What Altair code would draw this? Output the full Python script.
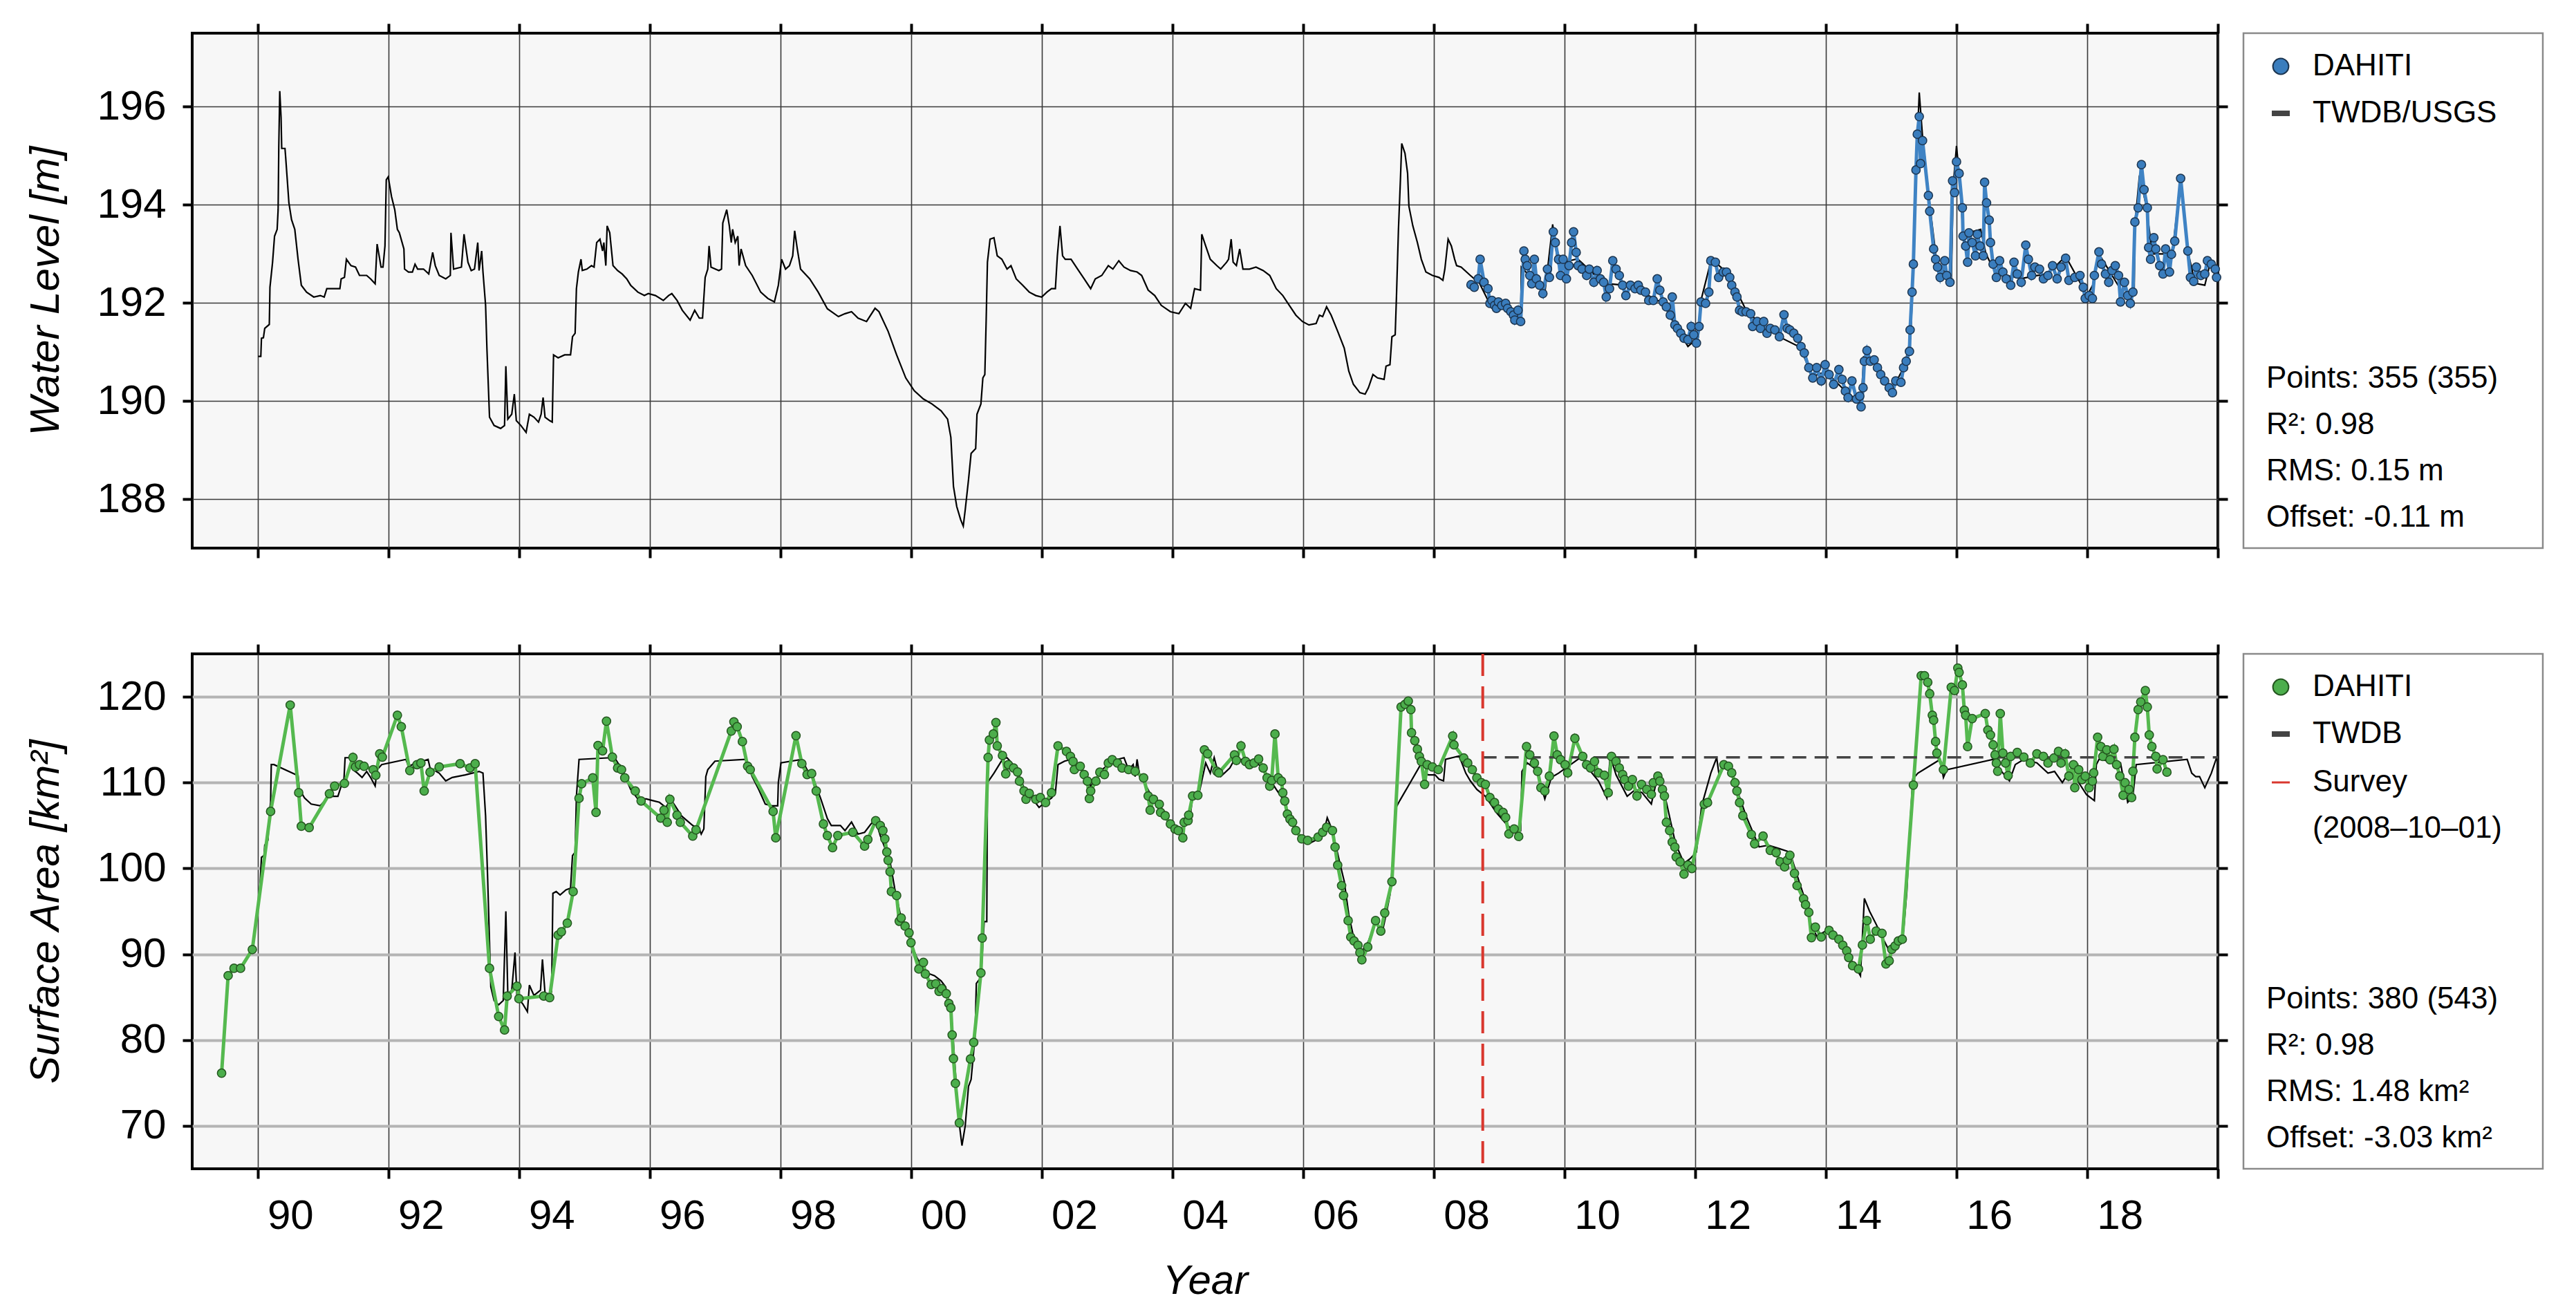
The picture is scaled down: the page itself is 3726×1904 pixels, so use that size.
import altair as alt
import pandas as pd

FONT = "Liberation Sans, Arial, Helvetica, sans-serif"
W, H = 2930, 745

# ---------------- Water level (top panel) ----------------
wl_twdb_year = [1990.01, 1990.05, 1990.06, 1990.09, 1990.11, 1990.18, 1990.19, 1990.23, 1990.26, 1990.30, 1990.315, 1990.325, 1990.34, 1990.36, 1990.37, 1990.42, 1990.43, 1990.48, 1990.52, 1990.57, 1990.62, 1990.67, 1990.75, 1990.86, 1990.96, 1991.02, 1991.06, 1991.26, 1991.28, 1991.33, 1991.36, 1991.43, 1991.50, 1991.56, 1991.67, 1991.73, 1991.80, 1991.83, 1991.89, 1991.92, 1991.95, 1991.97, 1992.00, 1992.05, 1992.10, 1992.14, 1992.17, 1992.24, 1992.25, 1992.31, 1992.37, 1992.41, 1992.45, 1992.54, 1992.62, 1992.68, 1992.72, 1992.78, 1992.88, 1992.95, 1992.96, 1993.00, 1993.12, 1993.16, 1993.22, 1993.27, 1993.32, 1993.37, 1993.39, 1993.43, 1993.45, 1993.49, 1993.51, 1993.55, 1993.62, 1993.72, 1993.78, 1993.80, 1993.83, 1993.89, 1993.93, 1993.96, 1994.03, 1994.11, 1994.16, 1994.23, 1994.30, 1994.34, 1994.37, 1994.40, 1994.47, 1994.51, 1994.53, 1994.60, 1994.70, 1994.79, 1994.82, 1994.86, 1994.88, 1994.91, 1994.95, 1994.97, 1995.04, 1995.11, 1995.15, 1995.19, 1995.24, 1995.28, 1995.30, 1995.33, 1995.35, 1995.39, 1995.44, 1995.51, 1995.58, 1995.65, 1995.71, 1995.82, 1995.92, 1995.98, 1996.09, 1996.21, 1996.29, 1996.34, 1996.42, 1996.50, 1996.62, 1996.69, 1996.76, 1996.81, 1996.85, 1996.89, 1996.91, 1996.94, 1997.06, 1997.10, 1997.12, 1997.18, 1997.22, 1997.25, 1997.27, 1997.31, 1997.35, 1997.37, 1997.40, 1997.47, 1997.57, 1997.70, 1997.81, 1997.91, 1997.97, 1998.02, 1998.08, 1998.14, 1998.19, 1998.22, 1998.26, 1998.31, 1998.45, 1998.58, 1998.72, 1998.89, 1998.99, 1999.09, 1999.19, 1999.32, 1999.45, 1999.51, 1999.65, 1999.78, 1999.92, 2000.05, 2000.19, 2000.32, 2000.46, 2000.56, 2000.61, 2000.65, 2000.70, 2000.76, 2000.80, 2000.83, 2000.88, 2000.92, 2000.99, 2001.01, 2001.07, 2001.10, 2001.13, 2001.15, 2001.17, 2001.21, 2001.27, 2001.32, 2001.39, 2001.47, 2001.53, 2001.61, 2001.71, 2001.81, 2001.91, 2002.00, 2002.08, 2002.15, 2002.21, 2002.24, 2002.28, 2002.32, 2002.36, 2002.45, 2002.55, 2002.65, 2002.75, 2002.82, 2002.92, 2003.02, 2003.09, 2003.18, 2003.26, 2003.36, 2003.46, 2003.53, 2003.63, 2003.73, 2003.83, 2003.97, 2004.10, 2004.20, 2004.28, 2004.34, 2004.43, 2004.45, 2004.51, 2004.58, 2004.68, 2004.74, 2004.83, 2004.86, 2004.90, 2004.93, 2004.98, 2005.03, 2005.08, 2005.18, 2005.28, 2005.39, 2005.49, 2005.59, 2005.69, 2005.79, 2005.89, 2005.99, 2006.09, 2006.20, 2006.25, 2006.30, 2006.36, 2006.43, 2006.53, 2006.63, 2006.70, 2006.77, 2006.87, 2006.95, 2007.00, 2007.07, 2007.14, 2007.24, 2007.27, 2007.33, 2007.36, 2007.41, 2007.43, 2007.46, 2007.49, 2007.51, 2007.56, 2007.60, 2007.62, 2007.68, 2007.75, 2007.81, 2007.88, 2007.98, 2008.08, 2008.14, 2008.17, 2008.22, 2008.27, 2008.32, 2008.35, 2008.42, 2008.56, 2008.70, 2008.85, 2009.00, 2009.20, 2009.33, 2009.34, 2009.50, 2009.70, 2009.82, 2009.90, 2010.20, 2010.60, 2011.00, 2011.50, 2011.89, 2012.05, 2012.08, 2012.25, 2012.50, 2012.80, 2013.30, 2013.60, 2013.80, 2014.00, 2014.30, 2014.54, 2014.58, 2014.75, 2015.00, 2015.20, 2015.30, 2015.34, 2015.38, 2015.43, 2015.48, 2015.51, 2015.60, 2015.70, 2015.85, 2015.92, 2015.95, 2016.00, 2016.05, 2016.10, 2016.37, 2016.45, 2016.60, 2017.00, 2017.40, 2017.67, 2018.00, 2018.10, 2018.18, 2018.50, 2018.65, 2018.72, 2018.73, 2018.80, 2018.90, 2019.00, 2019.30, 2019.43, 2019.55, 2019.65, 2019.80, 2019.88, 2020.00]
wl_twdb_val = [190.91, 190.91, 191.28, 191.29, 191.48, 191.56, 192.32, 192.83, 193.36, 193.50, 193.90, 195.18, 196.32, 195.78, 195.15, 195.15, 194.98, 194.04, 193.70, 193.50, 192.89, 192.36, 192.22, 192.12, 192.15, 192.12, 192.29, 192.29, 192.49, 192.52, 192.89, 192.76, 192.73, 192.56, 192.56, 192.49, 192.39, 193.20, 192.73, 192.73, 193.16, 194.51, 194.57, 194.17, 193.90, 193.50, 193.43, 193.10, 192.69, 192.63, 192.63, 192.79, 192.69, 192.69, 192.59, 193.03, 192.76, 192.56, 192.49, 192.56, 193.43, 192.69, 192.73, 193.40, 192.83, 192.66, 192.69, 193.23, 192.66, 193.06, 192.63, 191.95, 191.08, 189.67, 189.50, 189.44, 189.50, 190.71, 189.63, 189.73, 190.14, 189.60, 189.50, 189.36, 189.73, 189.67, 189.57, 189.73, 190.07, 189.67, 189.60, 189.57, 190.94, 190.88, 190.94, 190.94, 191.31, 191.38, 192.29, 192.63, 192.89, 192.66, 192.69, 192.76, 192.73, 193.23, 193.30, 193.06, 193.23, 192.76, 193.57, 193.43, 192.76, 192.66, 192.59, 192.49, 192.36, 192.22, 192.15, 192.19, 192.15, 192.05, 192.15, 192.19, 192.05, 191.85, 191.65, 191.85, 191.69, 191.69, 192.52, 192.69, 193.16, 192.73, 192.66, 192.69, 193.63, 193.90, 193.57, 193.23, 193.50, 193.23, 193.36, 192.76, 193.10, 192.76, 192.56, 192.22, 192.09, 192.02, 192.36, 192.89, 192.69, 192.76, 192.96, 193.47, 193.10, 192.69, 192.49, 192.22, 191.88, 191.72, 191.78, 191.82, 191.69, 191.62, 191.89, 191.82, 191.42, 190.94, 190.47, 190.21, 190.04, 189.94, 189.80, 189.63, 189.26, 188.26, 187.85, 187.58, 187.45, 187.78, 188.39, 188.93, 189.03, 189.73, 189.94, 190.47, 190.54, 191.62, 192.83, 193.30, 193.33, 192.96, 192.89, 192.69, 192.76, 192.49, 192.36, 192.22, 192.15, 192.12, 192.22, 192.29, 192.29, 192.96, 193.57, 192.96, 192.89, 192.89, 192.69, 192.49, 192.29, 192.49, 192.56, 192.76, 192.69, 192.86, 192.73, 192.66, 192.63, 192.56, 192.26, 192.15, 191.95, 191.82, 191.78, 191.99, 191.89, 192.29, 192.26, 193.40, 193.16, 192.89, 192.76, 192.69, 192.83, 192.89, 193.30, 192.83, 192.76, 193.10, 192.69, 192.69, 192.73, 192.66, 192.56, 192.29, 192.15, 191.95, 191.75, 191.62, 191.55, 191.58, 191.75, 191.72, 191.92, 191.75, 191.42, 191.08, 190.61, 190.34, 190.17, 190.14, 190.27, 190.54, 190.47, 190.44, 190.71, 190.74, 191.31, 191.35, 192.15, 193.50, 194.51, 195.25, 195.05, 194.64, 193.97, 193.57, 193.23, 192.89, 192.63, 192.56, 192.52, 192.46, 192.69, 193.30, 193.16, 192.89, 192.76, 192.73, 192.56, 192.40, 192.00, 191.95, 191.80, 191.60, 192.73, 192.50, 192.20, 193.60, 192.80, 192.90, 192.40, 192.35, 192.00, 191.11, 191.30, 192.00, 192.90, 192.60, 191.80, 191.30, 191.10, 190.50, 190.60, 190.20, 189.95, 190.90, 190.80, 190.20, 190.70, 191.30, 192.80, 194.70, 196.29, 195.40, 195.04, 193.90, 192.80, 192.60, 192.40, 194.40, 195.20, 194.50, 193.40, 193.50, 193.00, 192.60, 192.50, 192.60, 192.95, 192.15, 192.40, 193.00, 192.30, 192.00, 192.30, 193.60, 194.60, 194.00, 193.00, 193.00, 194.50, 193.00, 192.40, 192.36, 192.80, 192.60]

wl_dahiti_year = [2008.57, 2008.62, 2008.68, 2008.71, 2008.77, 2008.83, 2008.86, 2008.89, 2008.93, 2008.96, 2008.99, 2009.04, 2009.10, 2009.13, 2009.18, 2009.22, 2009.24, 2009.29, 2009.33, 2009.38, 2009.40, 2009.43, 2009.47, 2009.50, 2009.54, 2009.57, 2009.62, 2009.67, 2009.74, 2009.77, 2009.83, 2009.86, 2009.91, 2009.94, 2009.98, 2010.03, 2010.07, 2010.11, 2010.14, 2010.18, 2010.21, 2010.27, 2010.34, 2010.38, 2010.45, 2010.50, 2010.55, 2010.60, 2010.64, 2010.69, 2010.74, 2010.79, 2010.84, 2010.89, 2010.94, 2011.01, 2011.08, 2011.13, 2011.17, 2011.24, 2011.29, 2011.36, 2011.42, 2011.46, 2011.51, 2011.56, 2011.62, 2011.65, 2011.69, 2011.73, 2011.78, 2011.83, 2011.89, 2011.94, 2011.98, 2012.02, 2012.06, 2012.09, 2012.16, 2012.21, 2012.24, 2012.31, 2012.36, 2012.43, 2012.48, 2012.53, 2012.56, 2012.61, 2012.64, 2012.68, 2012.72, 2012.78, 2012.85, 2012.88, 2012.95, 2013.00, 2013.05, 2013.10, 2013.15, 2013.22, 2013.29, 2013.36, 2013.41, 2013.45, 2013.51, 2013.57, 2013.62, 2013.67, 2013.74, 2013.80, 2013.86, 2013.93, 2013.99, 2014.05, 2014.12, 2014.20, 2014.25, 2014.30, 2014.34, 2014.40, 2014.47, 2014.52, 2014.54, 2014.57, 2014.59, 2014.63, 2014.68, 2014.74, 2014.79, 2014.84, 2014.90, 2014.97, 2015.02, 2015.07, 2015.15, 2015.19, 2015.23, 2015.28, 2015.29, 2015.32, 2015.34, 2015.38, 2015.40, 2015.43, 2015.45, 2015.48, 2015.57, 2015.59, 2015.65, 2015.68, 2015.71, 2015.75, 2015.82, 2015.85, 2015.90, 2015.94, 2015.97, 2016.00, 2016.04, 2016.09, 2016.10, 2016.14, 2016.17, 2016.19, 2016.24, 2016.29, 2016.32, 2016.36, 2016.41, 2016.43, 2016.46, 2016.50, 2016.52, 2016.56, 2016.61, 2016.66, 2016.71, 2016.76, 2016.83, 2016.88, 2016.93, 2016.99, 2017.06, 2017.10, 2017.15, 2017.20, 2017.27, 2017.33, 2017.40, 2017.47, 2017.54, 2017.60, 2017.67, 2017.72, 2017.81, 2017.89, 2017.94, 2017.97, 2018.03, 2018.08, 2018.11, 2018.18, 2018.22, 2018.28, 2018.33, 2018.38, 2018.43, 2018.48, 2018.51, 2018.57, 2018.62, 2018.66, 2018.70, 2018.73, 2018.78, 2018.83, 2018.87, 2018.92, 2018.94, 2018.97, 2019.02, 2019.05, 2019.11, 2019.16, 2019.20, 2019.26, 2019.29, 2019.34, 2019.43, 2019.54, 2019.58, 2019.63, 2019.67, 2019.74, 2019.80, 2019.84, 2019.90, 2019.96, 2019.98]
wl_dahiti_val = [192.37, 192.32, 192.49, 192.89, 192.42, 192.29, 191.99, 192.05, 191.95, 191.89, 192.02, 191.95, 191.99, 191.89, 191.82, 191.75, 191.65, 191.85, 191.62, 193.06, 192.89, 192.76, 192.56, 192.39, 192.89, 192.49, 192.36, 192.19, 192.69, 192.52, 193.45, 193.23, 192.89, 192.56, 192.89, 192.49, 192.76, 193.23, 193.45, 193.03, 192.76, 192.69, 192.56, 192.69, 192.42, 192.66, 192.49, 192.42, 192.12, 192.29, 192.86, 192.69, 192.56, 192.36, 192.15, 192.36, 192.29, 192.36, 192.26, 192.22, 192.05, 192.05, 192.49, 192.26, 192.02, 191.92, 191.75, 192.12, 191.55, 191.48, 191.38, 191.28, 191.25, 191.52, 191.35, 191.18, 191.52, 192.02, 191.99, 192.22, 192.86, 192.83, 192.52, 192.63, 192.63, 192.52, 192.36, 192.22, 192.12, 191.85, 191.82, 191.82, 191.78, 191.52, 191.62, 191.48, 191.62, 191.38, 191.48, 191.45, 191.31, 191.76, 191.48, 191.45, 191.38, 191.28, 191.11, 190.98, 190.68, 190.47, 190.68, 190.41, 190.74, 190.54, 190.34, 190.64, 190.44, 190.20, 190.07, 190.41, 190.04, 190.10, 189.88, 190.27, 190.81, 191.03, 190.81, 190.84, 190.68, 190.54, 190.41, 190.27, 190.17, 190.41, 190.38, 190.68, 190.81, 191.01, 191.45, 192.22, 192.79, 194.71, 195.44, 195.80, 194.84, 195.31, 194.19, 193.87, 193.10, 192.89, 192.73, 192.52, 192.86, 192.56, 192.42, 194.49, 194.25, 194.88, 194.64, 193.94, 193.36, 193.16, 192.83, 193.43, 193.23, 192.96, 193.40, 193.16, 192.96, 194.46, 194.04, 193.69, 193.23, 192.79, 192.52, 192.86, 192.63, 192.49, 192.36, 192.83, 192.59, 192.42, 193.18, 192.89, 192.56, 192.73, 192.69, 192.49, 192.56, 192.76, 192.49, 192.73, 192.91, 192.46, 192.52, 192.56, 192.32, 192.09, 192.15, 192.09, 192.56, 193.04, 192.79, 192.59, 192.42, 192.66, 192.76, 192.56, 192.02, 192.42, 192.15, 191.99, 192.22, 193.65, 193.94, 194.82, 194.31, 193.94, 193.13, 192.89, 193.33, 193.10, 192.76, 192.59, 193.10, 192.63, 192.99, 193.26, 194.54, 193.06, 192.52, 192.44, 192.73, 192.56, 192.59, 192.86, 192.79, 192.69, 192.52]

# ---------------- Surface area (bottom panel) ----------------
sa_twdb_year = [1990.03, 1990.06, 1990.10, 1990.11, 1990.16, 1990.18, 1990.20, 1990.21, 1990.25, 1990.62, 1990.64, 1990.72, 1990.82, 1990.96, 1991.09, 1991.23, 1991.28, 1991.32, 1991.34, 1991.43, 1991.46, 1991.53, 1991.60, 1991.67, 1991.73, 1991.80, 1991.83, 1991.90, 1992.27, 1992.31, 1992.37, 1992.61, 1992.64, 1992.78, 1992.88, 1992.98, 1993.18, 1993.39, 1993.45, 1993.49, 1993.52, 1993.57, 1993.62, 1993.69, 1993.76, 1993.80, 1993.83, 1993.89, 1993.94, 1993.97, 1994.06, 1994.13, 1994.16, 1994.23, 1994.33, 1994.36, 1994.40, 1994.47, 1994.50, 1994.52, 1994.57, 1994.63, 1994.72, 1994.79, 1994.82, 1994.86, 1994.88, 1994.92, 1995.41, 1995.48, 1995.58, 1995.71, 1995.82, 1995.95, 1996.05, 1996.15, 1996.25, 1996.32, 1996.39, 1996.49, 1996.66, 1996.76, 1996.79, 1996.83, 1996.86, 1996.89, 1997.00, 1997.47, 1997.57, 1997.67, 1997.77, 1997.87, 1997.96, 1997.97, 1998.01, 1998.33, 1998.41, 1998.51, 1998.62, 1998.72, 1998.78, 1998.92, 1998.99, 1999.09, 1999.19, 1999.29, 1999.39, 1999.46, 1999.53, 1999.68, 1999.75, 1999.85, 1999.99, 2000.09, 2000.22, 2000.36, 2000.46, 2000.53, 2000.58, 2000.63, 2000.68, 2000.73, 2000.78, 2000.83, 2000.88, 2000.92, 2000.98, 2001.00, 2001.07, 2001.12, 2001.16, 2001.17, 2001.27, 2001.40, 2001.47, 2001.54, 2001.64, 2001.74, 2001.86, 2001.96, 2002.05, 2002.15, 2002.21, 2002.25, 2002.35, 2002.45, 2002.55, 2002.65, 2002.75, 2002.82, 2002.89, 2003.02, 2003.16, 2003.26, 2003.33, 2003.40, 2003.43, 2003.46, 2003.50, 2003.60, 2003.70, 2003.83, 2003.97, 2004.07, 2004.14, 2004.20, 2004.27, 2004.31, 2004.41, 2004.51, 2004.58, 2004.64, 2004.71, 2004.74, 2004.88, 2004.95, 2005.12, 2005.25, 2005.39, 2005.49, 2005.59, 2005.69, 2005.79, 2005.89, 2005.99, 2006.09, 2006.20, 2006.26, 2006.33, 2006.37, 2006.43, 2006.50, 2006.57, 2006.63, 2006.70, 2006.77, 2006.87, 2006.94, 2007.00, 2007.11, 2007.21, 2007.27, 2007.33, 2007.38, 2007.41, 2007.48, 2007.61, 2007.80, 2007.85, 2007.92, 2008.02, 2008.08, 2008.15, 2008.18, 2008.39, 2008.49, 2008.56, 2008.66, 2008.79, 2008.96, 2009.13, 2009.23, 2009.33, 2009.35, 2009.43, 2009.57, 2009.70, 2009.80, 2009.91, 2010.28, 2010.38, 2010.52, 2010.65, 2010.70, 2010.79, 2010.96, 2011.09, 2011.19, 2011.33, 2011.43, 2011.56, 2011.70, 2011.83, 2011.92, 2012.02, 2012.10, 2012.24, 2012.33, 2012.37, 2012.44, 2012.54, 2012.64, 2012.78, 2012.98, 2013.12, 2013.29, 2013.45, 2013.59, 2013.69, 2013.76, 2013.86, 2014.00, 2014.13, 2014.26, 2014.40, 2014.53, 2014.59, 2014.67, 2014.77, 2014.87, 2014.97, 2015.11, 2015.19, 2015.24, 2015.28, 2015.33, 2015.41, 2015.75, 2015.80, 2015.85, 2016.56, 2016.69, 2016.81, 2016.90, 2017.03, 2017.23, 2017.40, 2017.50, 2017.62, 2017.74, 2017.87, 2017.99, 2018.11, 2018.14, 2018.18, 2018.51, 2018.62, 2018.70, 2018.75, 2019.53, 2019.60, 2019.66, 2019.72, 2019.80, 2019.90, 2019.98]
sa_twdb_val = [96.9, 101.3, 101.5, 102.7, 103.3, 106.5, 107.7, 112.1, 112.1, 110.8, 109.2, 108.2, 107.5, 107.3, 108.4, 108.4, 109.6, 110.0, 112.9, 112.9, 111.5, 111.1, 110.6, 111.3, 110.6, 109.6, 111.5, 112.1, 112.7, 111.9, 112.1, 112.7, 111.7, 111.1, 110.2, 110.6, 110.9, 111.3, 111.1, 106.1, 99.2, 86.2, 84.6, 84.1, 84.6, 95.0, 85.4, 85.8, 90.2, 85.0, 84.2, 83.3, 86.4, 85.2, 85.8, 89.4, 85.4, 85.4, 85.6, 97.1, 97.3, 96.9, 97.5, 97.7, 101.5, 101.9, 108.4, 112.7, 112.9, 112.7, 111.5, 109.2, 108.1, 108.1, 107.9, 107.7, 107.1, 108.1, 107.3, 106.1, 105.0, 104.6, 104.0, 104.6, 110.7, 111.5, 112.5, 112.7, 110.7, 109.2, 107.5, 107.3, 107.3, 110.0, 112.3, 112.7, 111.5, 110.4, 108.1, 105.8, 105.0, 105.0, 104.4, 105.4, 104.0, 104.2, 105.2, 105.6, 103.8, 100.8, 97.7, 94.2, 91.5, 89.6, 87.9, 87.5, 86.9, 86.2, 84.6, 81.9, 76.2, 70.8, 67.7, 70.0, 74.6, 75.4, 80.4, 86.6, 87.3, 93.8, 93.8, 110.0, 111.1, 112.7, 112.9, 112.3, 111.1, 109.2, 108.1, 107.1, 107.7, 108.2, 108.8, 112.1, 112.5, 112.7, 112.1, 110.9, 109.6, 110.2, 111.3, 112.1, 112.7, 112.9, 111.5, 112.1, 110.7, 112.7, 110.7, 109.6, 108.1, 106.5, 105.0, 104.4, 104.4, 105.8, 105.8, 108.4, 108.8, 112.3, 111.1, 112.9, 110.9, 110.7, 111.7, 112.7, 112.7, 112.5, 111.7, 110.4, 109.2, 108.1, 106.1, 104.6, 103.4, 102.9, 103.3, 103.8, 104.6, 105.9, 104.8, 102.7, 100.4, 98.5, 94.6, 92.1, 90.0, 90.8, 91.5, 93.7, 92.5, 94.6, 96.9, 101.5, 106.9, 107.9, 109.6, 112.1, 111.1, 110.9, 110.9, 110.4, 110.2, 112.7, 113.1, 111.1, 110.2, 109.2, 108.4, 106.5, 105.0, 104.4, 104.4, 111.3, 112.3, 111.5, 108.1, 110.6, 111.1, 113.1, 111.5, 110.2, 108.2, 113.1, 110.9, 108.4, 109.2, 108.8, 107.5, 110.9, 107.7, 102.9, 100.6, 101.1, 101.9, 107.3, 111.1, 112.9, 110.7, 111.9, 111.5, 109.2, 106.1, 102.5, 102.7, 102.3, 101.9, 98.5, 96.2, 93.8, 92.1, 92.7, 92.3, 90.8, 89.2, 87.5, 96.5, 95.0, 93.5, 91.9, 90.4, 91.2, 92.7, 97.3, 103.8, 110.4, 111.1, 112.7, 110.6, 111.5, 112.7, 111.3, 110.2, 112.1, 112.7, 112.3, 111.1, 111.3, 110.0, 111.5, 110.0, 108.6, 107.9, 112.1, 112.7, 112.3, 107.7, 108.4, 112.1, 112.7, 111.1, 110.7, 110.7, 109.4, 111.1, 112.9]

sa_dahiti_year = [1989.45, 1989.55, 1989.64, 1989.74, 1989.92, 1990.20, 1990.50, 1990.63, 1990.67, 1990.79, 1991.10, 1991.18, 1991.33, 1991.46, 1991.50, 1991.56, 1991.63, 1991.77, 1991.81, 1991.87, 1991.91, 1992.14, 1992.20, 1992.33, 1992.44, 1992.50, 1992.55, 1992.64, 1992.78, 1993.10, 1993.25, 1993.33, 1993.55, 1993.69, 1993.78, 1993.82, 1993.97, 1994.00, 1994.38, 1994.47, 1994.60, 1994.65, 1994.74, 1994.83, 1994.92, 1994.96, 1995.13, 1995.18, 1995.21, 1995.28, 1995.34, 1995.43, 1995.51, 1995.57, 1995.62, 1995.78, 1995.87, 1996.17, 1996.22, 1996.27, 1996.31, 1996.42, 1996.47, 1996.66, 1996.71, 1997.25, 1997.29, 1997.34, 1997.42, 1997.50, 1997.54, 1997.89, 1997.93, 1998.24, 1998.33, 1998.41, 1998.48, 1998.55, 1998.66, 1998.72, 1998.80, 1998.88, 1999.11, 1999.29, 1999.34, 1999.46, 1999.53, 1999.57, 1999.60, 1999.63, 1999.65, 1999.68, 1999.70, 1999.78, 1999.82, 1999.85, 1999.91, 1999.97, 2000.00, 2000.12, 2000.19, 2000.22, 2000.31, 2000.38, 2000.43, 2000.47, 2000.54, 2000.58, 2000.61, 2000.63, 2000.65, 2000.68, 2000.74, 2000.91, 2000.96, 2001.07, 2001.09, 2001.18, 2001.20, 2001.26, 2001.30, 2001.32, 2001.40, 2001.45, 2001.49, 2001.57, 2001.63, 2001.66, 2001.73, 2001.76, 2001.81, 2001.91, 2001.98, 2002.06, 2002.15, 2002.25, 2002.38, 2002.44, 2002.48, 2002.50, 2002.59, 2002.65, 2002.70, 2002.73, 2002.75, 2002.83, 2002.89, 2002.96, 2003.02, 2003.08, 2003.16, 2003.23, 2003.33, 2003.43, 2003.56, 2003.63, 2003.66, 2003.71, 2003.80, 2003.82, 2003.89, 2003.97, 2004.04, 2004.09, 2004.16, 2004.18, 2004.24, 2004.25, 2004.31, 2004.39, 2004.49, 2004.54, 2004.68, 2004.71, 2004.95, 2004.98, 2005.05, 2005.12, 2005.18, 2005.25, 2005.32, 2005.39, 2005.45, 2005.49, 2005.52, 2005.57, 2005.62, 2005.67, 2005.69, 2005.72, 2005.76, 2005.80, 2005.84, 2005.89, 2005.98, 2006.07, 2006.23, 2006.30, 2006.36, 2006.45, 2006.49, 2006.53, 2006.59, 2006.62, 2006.69, 2006.73, 2006.78, 2006.84, 2006.87, 2006.90, 2006.99, 2007.11, 2007.19, 2007.25, 2007.36, 2007.50, 2007.56, 2007.61, 2007.65, 2007.66, 2007.71, 2007.75, 2007.78, 2007.81, 2007.86, 2007.90, 2007.98, 2008.07, 2008.29, 2008.31, 2008.46, 2008.52, 2008.59, 2008.66, 2008.73, 2008.79, 2008.86, 2008.93, 2008.99, 2009.06, 2009.10, 2009.15, 2009.23, 2009.30, 2009.42, 2009.47, 2009.54, 2009.59, 2009.64, 2009.70, 2009.77, 2009.84, 2009.89, 2009.94, 2010.01, 2010.05, 2010.16, 2010.28, 2010.34, 2010.40, 2010.46, 2010.52, 2010.61, 2010.67, 2010.72, 2010.79, 2010.84, 2010.89, 2010.92, 2010.98, 2011.04, 2011.11, 2011.18, 2011.26, 2011.33, 2011.36, 2011.43, 2011.46, 2011.50, 2011.53, 2011.56, 2011.61, 2011.65, 2011.69, 2011.71, 2011.77, 2011.83, 2011.89, 2011.95, 2012.14, 2012.19, 2012.44, 2012.51, 2012.56, 2012.61, 2012.64, 2012.68, 2012.73, 2012.86, 2012.91, 2013.04, 2013.15, 2013.24, 2013.30, 2013.37, 2013.41, 2013.45, 2013.52, 2013.56, 2013.66, 2013.69, 2013.74, 2013.78, 2013.84, 2013.93, 2014.05, 2014.11, 2014.20, 2014.26, 2014.32, 2014.35, 2014.41, 2014.50, 2014.56, 2014.63, 2014.68, 2014.77, 2014.86, 2014.92, 2014.97, 2015.01, 2015.06, 2015.11, 2015.17, 2015.34, 2015.46, 2015.51, 2015.56, 2015.59, 2015.63, 2015.65, 2015.68, 2015.70, 2015.80, 2015.92, 2015.97, 2016.02, 2016.04, 2016.09, 2016.12, 2016.14, 2016.17, 2016.24, 2016.44, 2016.48, 2016.52, 2016.56, 2016.59, 2016.61, 2016.63, 2016.67, 2016.71, 2016.75, 2016.79, 2016.83, 2016.93, 2017.03, 2017.13, 2017.23, 2017.33, 2017.40, 2017.49, 2017.56, 2017.60, 2017.66, 2017.72, 2017.79, 2017.81, 2017.87, 2017.92, 2017.97, 2018.03, 2018.08, 2018.10, 2018.16, 2018.21, 2018.24, 2018.30, 2018.35, 2018.41, 2018.45, 2018.50, 2018.55, 2018.58, 2018.64, 2018.68, 2018.70, 2018.73, 2018.78, 2018.82, 2018.89, 2018.92, 2018.95, 2018.99, 2019.05, 2019.07, 2019.16, 2019.22]
sa_dahiti_val = [76.14, 87.51, 88.36, 88.36, 90.55, 106.64, 119.04, 108.82, 104.91, 104.75, 108.71, 109.59, 109.90, 112.93, 111.82, 112.09, 111.90, 111.51, 110.86, 113.36, 112.97, 117.85, 116.51, 111.40, 112.09, 112.28, 109.02, 111.21, 111.82, 112.20, 111.71, 112.20, 88.36, 82.75, 81.17, 85.13, 86.28, 84.82, 85.13, 84.94, 92.23, 92.62, 93.62, 97.30, 108.17, 109.86, 110.55, 106.52, 114.32, 113.70, 117.16, 112.97, 111.71, 111.51, 110.55, 109.02, 107.86, 105.87, 106.79, 105.37, 108.06, 106.21, 105.37, 103.76, 104.49, 116.01, 117.08, 116.51, 114.78, 111.90, 111.51, 106.64, 103.56, 115.47, 112.20, 110.94, 111.05, 109.02, 105.18, 103.83, 102.41, 103.83, 104.22, 102.60, 103.37, 105.56, 104.99, 104.41, 103.45, 101.91, 100.95, 99.61, 97.30, 96.84, 93.85, 94.23, 93.27, 92.50, 91.35, 88.28, 89.05, 87.70, 86.47, 86.55, 85.67, 85.98, 85.40, 84.25, 83.75, 80.60, 77.83, 74.95, 70.35, 77.80, 79.72, 87.82, 91.89, 112.93, 114.97, 115.66, 117.00, 114.28, 113.16, 111.01, 112.09, 111.71, 111.24, 110.17, 109.02, 108.06, 108.75, 108.06, 108.25, 107.67, 108.82, 114.28, 113.63, 113.05, 112.47, 111.51, 111.90, 110.94, 110.17, 108.13, 109.02, 110.17, 111.21, 110.94, 112.28, 112.67, 112.28, 111.71, 111.51, 111.32, 110.55, 108.44, 106.79, 108.06, 107.48, 106.52, 106.14, 105.18, 104.60, 104.41, 103.56, 105.37, 105.56, 106.21, 108.44, 108.52, 113.82, 113.36, 111.32, 111.13, 113.24, 112.59, 114.28, 112.47, 112.09, 112.28, 112.74, 111.71, 110.55, 109.59, 110.25, 115.66, 110.55, 110.17, 108.82, 107.86, 106.33, 105.75, 105.37, 104.41, 103.45, 103.26, 103.64, 104.22, 104.79, 104.41, 102.49, 100.38, 98.00, 96.84, 93.92, 92.00, 91.54, 91.04, 90.20, 89.35, 90.85, 93.92, 92.70, 94.81, 98.46, 118.81, 119.12, 119.50, 118.50, 115.81, 114.89, 113.89, 113.05, 112.47, 109.79, 112.09, 111.82, 111.51, 115.43, 114.39, 112.86, 112.28, 111.51, 110.55, 109.98, 109.79, 108.25, 107.67, 106.90, 106.52, 105.94, 104.02, 104.60, 103.72, 114.20, 113.24, 112.28, 111.32, 109.40, 109.02, 110.75, 115.43, 113.24, 112.67, 112.09, 111.13, 115.16, 113.05, 112.09, 111.71, 112.47, 111.13, 110.86, 108.82, 113.05, 112.47, 111.71, 110.94, 110.36, 109.59, 110.36, 108.44, 109.79, 109.21, 108.63, 109.98, 110.75, 110.17, 109.21, 108.44, 105.37, 104.41, 103.06, 102.49, 101.34, 100.76, 99.34, 100.38, 99.99, 107.48, 107.67, 112.09, 111.90, 111.13, 109.98, 109.02, 107.67, 106.14, 103.95, 102.87, 103.76, 102.10, 101.84, 100.76, 100.18, 100.95, 101.53, 99.42, 98.00, 96.46, 95.77, 94.88, 91.93, 93.16, 92.00, 92.77, 92.23, 91.74, 91.04, 90.39, 89.62, 88.66, 88.28, 91.08, 93.92, 91.74, 92.70, 92.43, 88.86, 89.24, 90.58, 90.97, 91.54, 91.74, 109.71, 122.46, 122.46, 121.69, 120.35, 117.85, 117.27, 114.78, 113.43, 111.51, 121.11, 120.73, 123.34, 122.84, 121.38, 118.43, 117.85, 114.20, 117.46, 118.04, 116.12, 115.55, 114.39, 113.24, 112.28, 111.32, 118.04, 113.43, 112.28, 110.82, 113.05, 113.51, 112.97, 112.28, 113.36, 113.05, 112.28, 112.86, 113.63, 112.28, 113.36, 110.75, 112.09, 109.40, 111.51, 110.36, 110.75, 109.40, 110.17, 111.13, 115.28, 114.20, 113.05, 113.82, 112.67, 113.89, 112.09, 110.75, 108.52, 109.98, 109.21, 108.25, 111.32, 115.28, 118.50, 119.39, 120.73, 118.81, 115.55, 114.20, 113.05, 111.59, 112.67, 111.21]

survey_year = [2008.75]       # 2008-10-01
survey_area = [112.93]        # area at survey (dashed reference)
x_end = [2020.0]

x_domain = [1989, 2020]
year_ticks = list(range(1990, 2021, 2))
wl_domain = [187.0, 197.5]
wl_ticks = [188, 190, 192, 194, 196]
sa_domain = [65.0, 125.0]
sa_ticks = [70, 80, 90, 100, 110, 120]

wl_legend = ["DAHITI", "TWDB/USGS"]
wl_stats = ["Points: 355 (355)", "R²: 0.98", "RMS: 0.15 m", "Offset: -0.11 m"]
sa_legend = ["DAHITI", "TWDB", "Survey", "(2008–10–01)"]
sa_stats = ["Points: 380 (543)", "R²: 0.98", "RMS: 1.48 km²", "Offset: -3.03 km²"]

BLUE, BLUE_DARK, BLUE_LINE = "#3a7dbd", "#1c3550", "#3f83c4"
GREEN, GREEN_DARK, GREEN_LINE = "#4cae4c", "#24561f", "#55b94f"

XS = alt.Scale(domain=x_domain, nice=False, zero=False)
one = pd.DataFrame({"a": [0]})
LX = 2967  # legend box left, relative to plot origin
LW = 433


def x_axis_main(show_labels):
    kw = dict(orient="bottom", values=year_ticks, grid=True, gridColor="#3a3a3a", gridWidth=1.6,
              ticks=True, tickSize=14, tickWidth=4, tickColor="black", domain=False,
              labels=show_labels)
    if show_labels:
        kw.update(labelExpr="datum.value >= 2020 ? '' : format(datum.value % 100, '02d')",
                  labelOffset=47.26, labelFontSize=60, labelFont=FONT, labelColor="black",
                  labelPadding=25, labelOverlap=False, labelFlush=False, labelBound=False,
                  title="Year", titleFont=FONT, titleFontSize=60, titleFontStyle="italic",
                  titleFontWeight="normal", titlePadding=35, titleColor="black")
    else:
        kw.update(title=None)
    return alt.Axis(**kw)


def y_axis_main(title, ticks, gcol, gw):
    return alt.Axis(orient="left", values=ticks, grid=True, gridColor=gcol, gridWidth=gw,
                    ticks=True, tickSize=14, tickWidth=4, tickColor="black", domain=False,
                    labelFontSize=60, labelFont=FONT, labelColor="black", labelPadding=24,
                    labelOverlap=False, labelFlush=False,
                    title=title, titleFont=FONT, titleFontSize=60, titleFontStyle="italic",
                    titleFontWeight="normal", titlePadding=42, titleColor="black")


def x_axis_top():
    return alt.Axis(orient="top", values=year_ticks, grid=False, ticks=True, tickSize=14,
                    tickWidth=4, tickColor="black", domain=False, labels=False, title=None)


def y_axis_right(ticks):
    return alt.Axis(orient="right", values=ticks, grid=False, ticks=True, tickSize=14,
                    tickWidth=4, tickColor="black", domain=False, labels=False, title=None)


def txt(s, x, y, size=44):
    return alt.Chart(one).mark_text(text=s, align="left", baseline="middle", font=FONT,
                                    fontSize=size, color="black").encode(
        x=alt.value(x), y=alt.value(y))


def legend_layers(fill, stroke, labels, stats, survey):
    layers = [
        alt.Chart(one).mark_rect(fill="white", stroke="#8a8a8a", strokeWidth=2.5).encode(
            x=alt.value(LX), x2=alt.value(LX + LW), y=alt.value(0), y2=alt.value(H)),
        alt.Chart(one).mark_point(shape="circle", filled=True, fill=fill, stroke=stroke,
                                  strokeWidth=2, size=520, opacity=1).encode(
            x=alt.value(LX + 54), y=alt.value(48)),
        alt.Chart(one).mark_rule(color="#444444", strokeWidth=8).encode(
            x=alt.value(LX + 41), x2=alt.value(LX + 67), y=alt.value(116)),
        txt(labels[0], LX + 100, 48),
        txt(labels[1], LX + 100, 116),
    ]
    if survey:
        layers += [
            alt.Chart(one).mark_rule(color="#d9372e", strokeWidth=3).encode(
                x=alt.value(LX + 41), x2=alt.value(LX + 67), y=alt.value(186)),
            txt(labels[2], LX + 100, 186),
            txt(labels[3], LX + 100, 253),
        ]
    for i, s in enumerate(stats):
        layers.append(txt(s, LX + 33, 500 + i * 67))
    return layers


def panel(twdb_y, twdb_v, dah_y, dah_v, ytitle, ydomain, yticks, gcol, gw,
          fill, stroke, linecol, show_labels, extra, legend):
    ys = alt.Scale(domain=ydomain, nice=False, zero=False)
    twdb = pd.DataFrame({"year": twdb_y, "value": twdb_v})
    dah = pd.DataFrame({"year": dah_y, "value": dah_v})
    base = alt.Chart(twdb).mark_line(color="black", strokeWidth=2.2).encode(
        x=alt.X("year:Q", scale=XS, axis=x_axis_main(show_labels)),
        y=alt.Y("value:Q", scale=ys, axis=y_axis_main(ytitle, yticks, gcol, gw)))
    dah_line = alt.Chart(dah).mark_line(color=linecol, strokeWidth=5).encode(
        x=alt.X("year:Q", scale=XS, axis=x_axis_top()),
        y=alt.Y("value:Q", scale=ys, axis=y_axis_right(yticks)))
    pts = alt.Chart(dah).mark_point(shape="circle", filled=True, fill=fill, stroke=stroke,
                                    strokeWidth=1.5, size=150, opacity=1).encode(
        x=alt.X("year:Q", scale=XS, axis=None),
        y=alt.Y("value:Q", scale=ys, axis=None))
    extra_layers = [e(ys) for e in extra]
    layers = [base, dah_line] + extra_layers + [pts] + legend
    return alt.layer(*layers).resolve_axis(x="independent", y="independent").properties(
        width=W, height=H,
        view=alt.ViewBackground(fill="#f7f7f7", stroke="black", strokeWidth=4))


def survey_dash(ys):
    df = pd.DataFrame({"x0": survey_year, "x1": x_end, "y": survey_area})
    return alt.Chart(df).mark_rule(color="#444444", strokeWidth=3.5, strokeDash=[20, 12]).encode(
        x=alt.X("x0:Q", scale=XS, axis=None), x2="x1:Q",
        y=alt.Y("y:Q", scale=ys, axis=None))


def survey_rule(ys):
    df = pd.DataFrame({"x": survey_year})
    return alt.Chart(df).mark_rule(color="#d9372e", strokeWidth=4, strokeDash=[32, 15]).encode(
        x=alt.X("x:Q", scale=XS, axis=None))


top = panel(wl_twdb_year, wl_twdb_val, wl_dahiti_year, wl_dahiti_val, "Water Level [m]",
            wl_domain, wl_ticks, "#3a3a3a", 1.6, BLUE, BLUE_DARK, BLUE_LINE, False, [],
            legend_layers(BLUE, BLUE_DARK, wl_legend, wl_stats, False))
bottom = panel(sa_twdb_year, sa_twdb_val, sa_dahiti_year, sa_dahiti_val, "Surface Area [km²]",
               sa_domain, sa_ticks, "#b4b4b4", 4, GREEN, GREEN_DARK, GREEN_LINE, True,
               [survey_dash, survey_rule],
               legend_layers(GREEN, GREEN_DARK, sa_legend, sa_stats, True))

chart = alt.vconcat(top, bottom, spacing=117).properties(
    padding={"left": 26, "top": 22, "right": 8, "bottom": 8},
    background="white")

chart.save("out.html", embed_options={"renderer": "svg", "actions": False})
